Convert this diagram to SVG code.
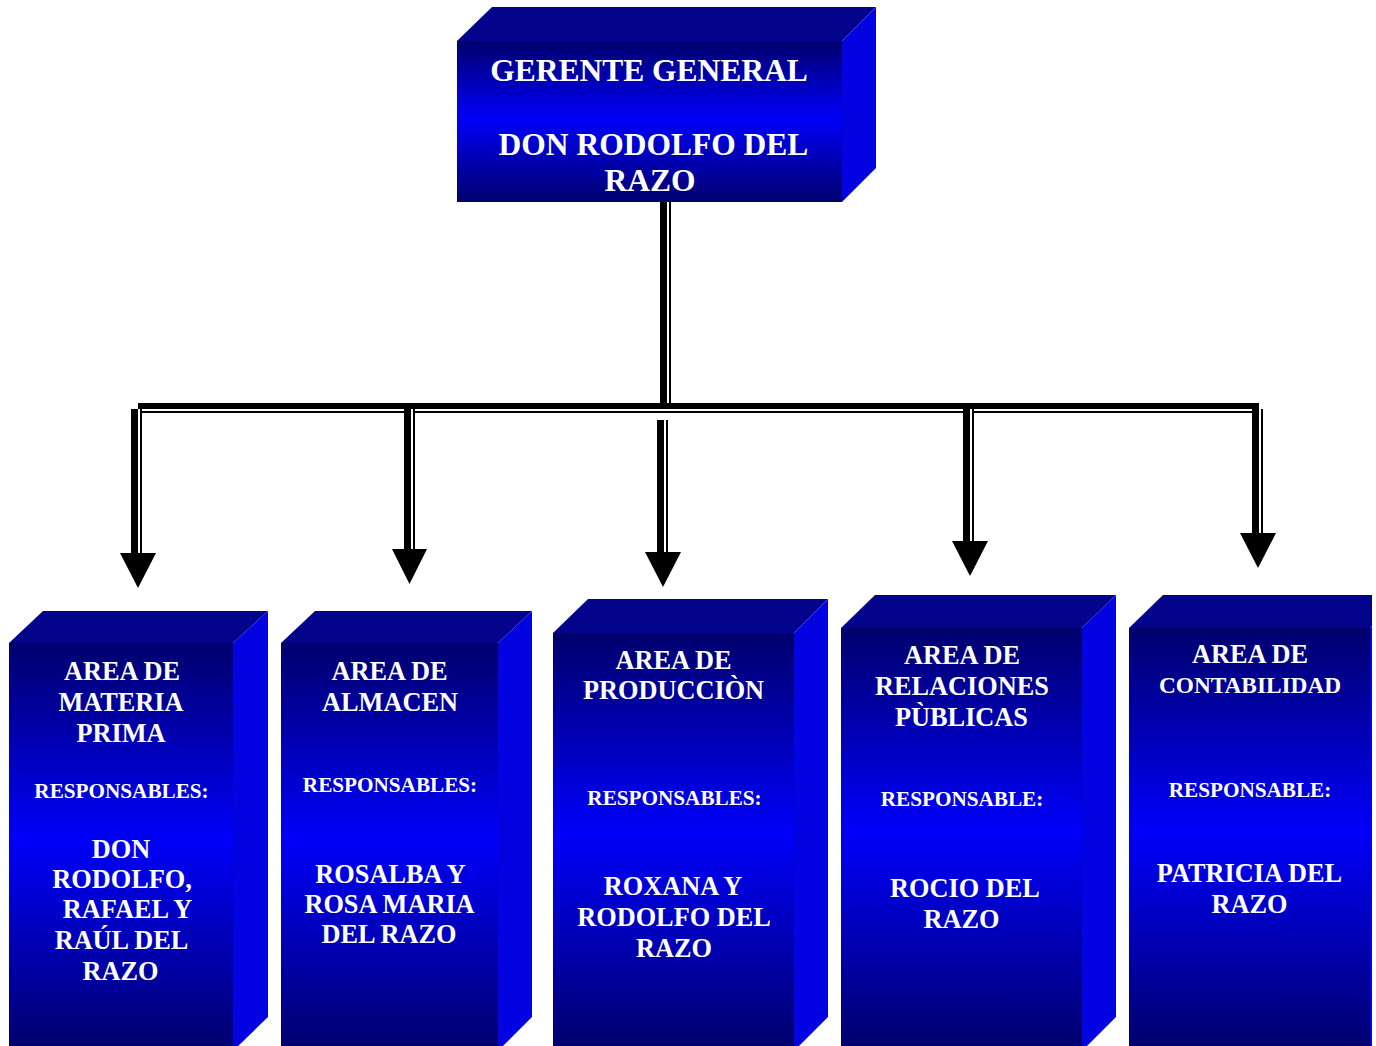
<svg xmlns="http://www.w3.org/2000/svg" width="1376" height="1046" viewBox="0 0 1376 1046">
<defs>
<linearGradient id="front" x1="0" y1="0" x2="0" y2="1">
<stop offset="0" stop-color="#00006C"/>
<stop offset="0.48" stop-color="#0000FA"/>
<stop offset="1" stop-color="#00006C"/>
</linearGradient>
<clipPath id="clipR"><rect x="0" y="0" width="1372" height="1046"/></clipPath>
</defs>
<style>
.top{fill:#03038C}
.side{fill:#0303E2}
.front{fill:url(#front)}
text{font-family:"Liberation Serif","Times New Roman",serif;font-weight:bold;fill:#FFFFFF;text-anchor:middle}
.t32{font-size:31.5px}
.t26{font-size:26.3px}
.t21{font-size:21.2px}
.bk{fill:#000000}
.wh{fill:#FFFFFF}
</style>
<rect width="1376" height="1046" fill="#FFFFFF"/>

<g id="connectors">
<!-- top vertical -->
<rect class="bk" x="660" y="202" width="7" height="202"/>
<rect class="bk" x="669" y="202" width="2" height="202"/>
<!-- horizontal bus -->
<rect class="bk" x="138" y="403" width="1120" height="6"/>
<rect class="bk" x="140" y="411" width="1112" height="2"/>
<!-- arrow 1 -->
<rect class="wh" x="138" y="409" width="2" height="144"/>
<rect class="bk" x="131" y="409" width="7" height="145"/>
<rect class="bk" x="140" y="409" width="2" height="145"/>
<polygon class="bk" points="120,553 156,553 138,588"/>
<!-- arrow 2 -->
<rect class="wh" x="411" y="409" width="2" height="140"/>
<rect class="bk" x="404" y="409" width="7" height="141"/>
<rect class="bk" x="413" y="409" width="2" height="141"/>
<polygon class="bk" points="392,549 427,549 409.5,584"/>
<!-- arrow 3 -->
<rect class="bk" x="657" y="420" width="7" height="133"/>
<rect class="bk" x="666" y="420" width="2" height="133"/>
<polygon class="bk" points="645,552 681,552 663,587"/>
<!-- arrow 4 -->
<rect class="wh" x="970" y="409" width="2" height="132"/>
<rect class="bk" x="963" y="409" width="7" height="133"/>
<rect class="bk" x="972" y="409" width="2" height="133"/>
<polygon class="bk" points="952,541 988,541 970,576"/>
<!-- arrow 5 -->
<rect class="wh" x="1259" y="413" width="2" height="120"/>
<rect class="bk" x="1252" y="403" width="7" height="131"/>
<rect class="bk" x="1261" y="409" width="2" height="125"/>
<polygon class="bk" points="1240,533 1276,533 1258,568"/>
</g>

<g id="gerente">
<polygon class="top" points="457,41 492,7 876,7 842,41"/>
<polygon class="side" points="842,41 876,7 876,168 842,202"/>
<rect class="front" x="457" y="41" width="385" height="161"/>
<text class="t32" x="649" y="81">GERENTE GENERAL</text>
<text class="t32" x="653.5" y="155">DON RODOLFO DEL</text>
<text class="t32" x="650" y="191">RAZO</text>
</g>

<g id="materia-prima">
<polygon class="top" points="9,643 43,611 268,611 233,643"/>
<polygon class="side" points="233,643 268,611 268,1017 233,1051"/>
<rect class="front" x="9" y="643" width="224" height="408"/>
<text class="t26" x="122" y="680">AREA DE</text>
<text class="t26" x="121" y="711">MATERIA</text>
<text class="t26" x="121" y="742">PRIMA</text>
<text class="t21" x="121.5" y="798">RESPONSABLES:</text>
<text class="t26" x="121" y="858">DON</text>
<text class="t26" x="122" y="888">RODOLFO,</text>
<text class="t26" x="127.5" y="918">RAFAEL Y</text>
<text class="t26" x="121.5" y="949">RAÚL DEL</text>
<text class="t26" x="120.5" y="980">RAZO</text>
</g>

<g id="almacen">
<polygon class="top" points="281,643 315,611 532,611 498,643"/>
<polygon class="side" points="498,643 532,611 532,1017 498,1051"/>
<rect class="front" x="281" y="643" width="217" height="408"/>
<text class="t26" x="389.5" y="680">AREA DE</text>
<text class="t26" x="390" y="711">ALMACEN</text>
<text class="t21" x="390" y="792">RESPONSABLES:</text>
<text class="t26" x="390.5" y="883">ROSALBA Y</text>
<text class="t26" x="389.5" y="913">ROSA MARIA</text>
<text class="t26" x="389" y="943">DEL RAZO</text>
</g>

<g id="produccion">
<polygon class="top" points="553,633 588,599 828,599 794,633"/>
<polygon class="side" points="794,633 828,599 828,1017 794,1051"/>
<rect class="front" x="553" y="633" width="241" height="418"/>
<text class="t26" x="673.5" y="669">AREA DE</text>
<text class="t26" x="673.5" y="699">PRODUCCIÒN</text>
<text class="t21" x="674.5" y="805">RESPONSABLES:</text>
<text class="t26" x="673" y="895">ROXANA Y</text>
<text class="t26" x="674" y="926">RODOLFO DEL</text>
<text class="t26" x="674" y="957">RAZO</text>
</g>

<g id="relaciones-publicas">
<polygon class="top" points="841,628 875,595 1116,595 1082,628"/>
<polygon class="side" points="1082,628 1116,595 1116,1017 1082,1051"/>
<rect class="front" x="841" y="628" width="241" height="423"/>
<text class="t26" x="962" y="664">AREA DE</text>
<text class="t26" x="962" y="695">RELACIONES</text>
<text class="t26" x="961.5" y="726">PÙBLICAS</text>
<text class="t21" x="962" y="806">RESPONSABLE:</text>
<text class="t26" x="965" y="897">ROCIO DEL</text>
<text class="t26" x="961.5" y="928">RAZO</text>
</g>

<g id="contabilidad" clip-path="url(#clipR)">
<polygon class="top" points="1129,628 1163,595 1404,595 1370,628"/>
<polygon class="side" points="1370,628 1404,595 1404,1017 1370,1051"/>
<rect class="front" x="1129" y="628" width="241" height="423"/>
<text class="t26" x="1250" y="663">AREA DE</text>
<text class="t26" x="1250" y="693" style="font-size:23.3px">CONTABILIDAD</text>
<text class="t21" x="1250" y="797">RESPONSABLE:</text>
<text class="t26" x="1249.5" y="882">PATRICIA DEL</text>
<text class="t26" x="1249.5" y="913">RAZO</text>
</g>
</svg>
